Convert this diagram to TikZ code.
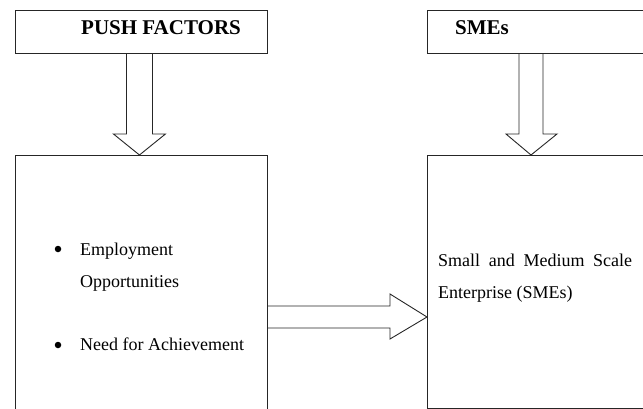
\documentclass[tikz,border=0pt]{standalone}
\usepackage{fontspec}
\setmainfont{Liberation Serif}
\usetikzlibrary{calc}

\tikzset{
	box/.style={draw=black!85,line width=0.9pt,rectangle,anchor=north west,inner sep=0pt},
	blockarrow/.style={draw=black!85,line width=0.9pt,line join=miter},
	titulo/.style={font=\fontsize{21}{25}\selectfont\bfseries,anchor=base west,inner sep=0pt},
	texto/.style={font=\fontsize{18}{32}\selectfont,anchor=base west,inner sep=0pt},
	ponto/.style={circle,fill=black,inner sep=0pt,minimum size=6.5pt},
}

\begin{document}
\begin{tikzpicture}[x=1pt,y=1pt]
			\useasboundingbox (0,0) rectangle (643,-409);
			\clip (0,0) rectangle (643,-409);
			\node [box,minimum width=252,minimum height=43] (push) at (15,-10) {};
			\node [box,minimum width=252,minimum height=270] (pushlist) at (15,-155) {};
			\node [box,minimum width=240,minimum height=43] (sme) at (427,-10) {};
			\node [box,minimum width=240,minimum height=253] (smelist) at (427,-155) {};
			\node [titulo] (pushtitle) at (81,-35) {PUSH FACTORS};
			\node [titulo] (smetitle) at (455,-35) {SMEs};

			\draw [blockarrow] let \p1 = (push.south), \p2 = (pushlist.north) in
			                   (\x1-15,\y1) -- (\x1-15,\y2+21) -- (\x1-28,\y2+21) -- (\x1-2,\y2)
			                   -- (\x1+24,\y2+21) -- (\x1+11,\y2+21) -- (\x1+11,\y1);
			\draw [blockarrow] let \p1 = (sme.south west), \p2 = (smelist.north west) in
			                   (\x1+92,\y1) -- (\x1+92,\y2+21) -- (\x1+79,\y2+21) -- (\x1+104,\y2)
			                   -- (\x1+130,\y2+21) -- (\x1+116,\y2+21) -- (\x1+116,\y1);
			\draw [blockarrow] let \p1 = (pushlist.east), \p2 = (smelist.west) in
			                   (\x1,-306) -- (\x2-37,-306) -- (\x2-37,-294) -- (\x2,-317)
			                   -- (\x2-37,-339) -- (\x2-37,-328) -- (\x1,-328);

			\node [ponto] (dot1) at (58,-249) {};
			\node [ponto] (dot2) at (58,-345) {};
			\node [texto] (employ) at (80,-255) {Employment};
			\node [texto] (opport) at (80,-287) {Opportunities};
			\node [texto] (need) at (80,-350) {Need for Achievement};
			\node [texto] (small) at (438,-266) {\makebox[194pt][s]{Small and Medium Scale}};
			\node [texto] (enterprise) at (438,-298) {Enterprise (SMEs)};
		\end{tikzpicture}
\end{document}
